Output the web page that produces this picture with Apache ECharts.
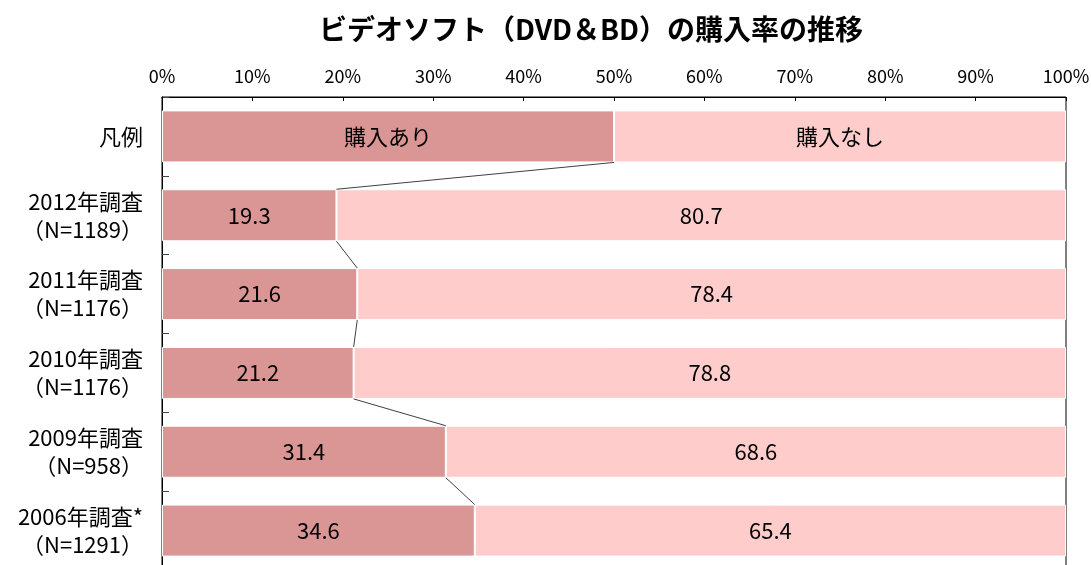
<!DOCTYPE html>
<html><head><meta charset="utf-8">
<script src="https://cdn.jsdelivr.net/npm/echarts@6/dist/echarts.min.js"></script>
<style>html,body{margin:0;padding:0;background:#fff}#c{width:1091px;height:565px}</style>
</head><body><div id="c"></div>
<script>
const titleText = 'ビデオソフト（DVD＆BD）の購入率の推移';
const categories = ['凡例', '2012年調査\n（N=1189）', '2011年調査\n（N=1176）', '2010年調査\n（N=1176）', '2009年調査\n（N=958）', '2006年調査*\n（N=1291）'];
const seriesNames = ['購入あり', '購入なし'];
const buyYes = [50, 19.3, 21.6, 21.2, 31.4, 34.6];
const buyNo = [50, 80.7, 78.4, 78.8, 68.6, 65.4];
const xMin = 0, xMax = 100, xInterval = 10;

const FONT = '"Noto Sans CJK JP", "Noto Sans", sans-serif';
const NARROW = '"Liberation Sans Narrow", "Noto Sans CJK JP", sans-serif';
const BAR_RATIO = 0.66;

const connectors = [];
for (let i = 0; i < buyYes.length - 1; i++) connectors.push([buyYes[i], i, buyYes[i + 1], i + 1]);

function labelFor(name) {
  return function (p) { return p.dataIndex === 0 ? name : p.value.toFixed(1); };
}

const chart = echarts.init(document.getElementById('c'), null, { renderer: 'canvas' });
chart.setOption({
  backgroundColor: '#ffffff',
  animation: false,
  title: {
    text: titleText, left: 314, top: 10,
    textStyle: { fontFamily: FONT, fontSize: 28, fontWeight: 'bold', color: '#000' }
  },
  grid: { left: 162, right: 25, top: 97, height: 473, outerBoundsMode: 'none', containLabel: false, show: true, borderColor: '#000', borderWidth: 1, backgroundColor: 'transparent' },
  xAxis: {
    type: 'value', position: 'top', min: xMin, max: xMax, interval: xInterval,
    axisLine: { show: true, lineStyle: { color: '#000', width: 1 } },
    axisTick: { show: true, inside: true, length: 4, lineStyle: { color: '#000' } },
    splitLine: { show: false },
    axisLabel: { formatter: '{value}%', fontFamily: NARROW, fontSize: 18, color: '#000', margin: 12 }
  },
  yAxis: {
    type: 'category', data: categories, inverse: true,
    axisLine: { show: true, lineStyle: { color: '#000', width: 1 } },
    axisTick: { show: true, inside: true, length: 7, lineStyle: { color: '#444' } },
    axisLabel: { fontFamily: FONT, fontSize: 22, color: '#000', margin: 19, lineHeight: 28, align: 'right' }
  },
  series: [
    {
      name: seriesNames[0], type: 'bar', stack: 'a', data: buyYes, barWidth: (BAR_RATIO * 100) + '%',
      itemStyle: { color: '#D99694', borderColor: '#fff', borderWidth: 1 },
      label: { show: true, position: 'inside', formatter: labelFor(seriesNames[0]), fontFamily: FONT, fontSize: 22, color: '#000' }
    },
    {
      name: seriesNames[1], type: 'bar', stack: 'a', data: buyNo,
      itemStyle: { color: '#FFCCCC', borderColor: '#fff', borderWidth: 1 },
      label: { show: true, position: 'inside', formatter: labelFor(seriesNames[1]), fontFamily: FONT, fontSize: 22, color: '#000' }
    },
    {
      type: 'custom', silent: true, z: 5, data: connectors,
      encode: { x: [0, 2], y: [1, 3] },
      renderItem: function (params, api) {
        const p1 = api.coord([api.value(0), api.value(1)]);
        const p2 = api.coord([api.value(2), api.value(3)]);
        const half = api.size([0, 1])[1] * BAR_RATIO / 2;
        return {
          type: 'line',
          shape: { x1: p1[0], y1: p1[1] + half, x2: p2[0], y2: p2[1] - half },
          style: { stroke: '#404040', lineWidth: 1 }
        };
      }
    }
  ]
});
</script></body></html>
